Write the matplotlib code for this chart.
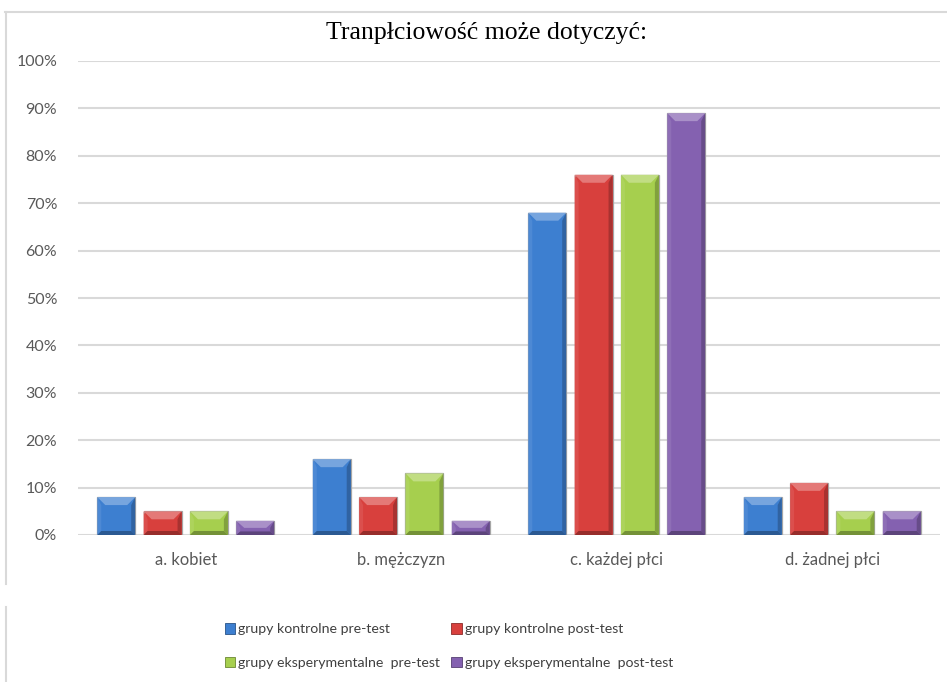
import matplotlib
matplotlib.use("Agg")
import matplotlib.pyplot as plt
from matplotlib.patches import Polygon, Patch
from matplotlib.lines import Line2D
import matplotlib.colors as mcolors
import numpy as np

title = "Tranpłciowość może dotyczyć:"
categories = ["a. kobiet", "b. mężczyzn", "c. każdej płci", "d. żadnej płci"]
series_names = [
    "grupy kontrolne pre-test",
    "grupy kontrolne post-test",
    "grupy eksperymentalne  pre-test",
    "grupy eksperymentalne  post-test",
]
kontrolne_pre = [8, 16, 68, 8]
kontrolne_post = [5, 8, 76, 11]
eksperymentalne_pre = [5, 13, 76, 5]
eksperymentalne_post = [3, 3, 89, 5]
yticks = [0, 10, 20, 30, 40, 50, 60, 70, 80, 90, 100]

series = [kontrolne_pre, kontrolne_post, eksperymentalne_pre, eksperymentalne_post]
colors = ["#3d7fd0", "#d8403d", "#a6cf4e", "#8461b0"]

plt.rcParams["font.family"] = ["Lato", "DejaVu Sans"]

fig = plt.figure(figsize=(9.47, 6.82), dpi=100)
ax = fig.add_axes([78 / 947, 1 - 535 / 682, 862 / 947, 474 / 682])

x = np.arange(len(categories))
step = 0.215
width = 0.176
offsets = (np.arange(4) - 1.5) * step


def shade(c, f):
    r, g, b = mcolors.to_rgb(c)
    if f >= 0:
        return (r + (1 - r) * f, g + (1 - g) * f, b + (1 - b) * f)
    return (r * (1 + f), g * (1 + f), b * (1 + f))


# bevel sizes expressed in data units
px_y = 100 / 474
px_x = 4 / 862
bev_y = 8 * px_y
bev_x = 8 * px_x

for i, (vals, col) in enumerate(zip(series, colors)):
    bars = ax.bar(x + offsets[i], vals, width, color=col,
                  edgecolor="#a6a6a6", linewidth=0.9, zorder=3)
    for b in bars:
        x0, w, h = b.get_x(), b.get_width(), b.get_height()
        x1 = x0 + w
        by = min(bev_y, h / 2)
        sx = bev_x * 0.5
        # top bevel
        ax.add_patch(Polygon([(x0, h), (x1, h), (x1 - bev_x, h - by), (x0 + bev_x, h - by)],
                             closed=True, facecolor=shade(col, 0.3), edgecolor="none", zorder=4))
        # right side
        ax.add_patch(Polygon([(x1, h), (x1, 0), (x1 - sx, by * 0.5), (x1 - sx, h - by)],
                             closed=True, facecolor=shade(col, -0.22), edgecolor="none", zorder=4))
        # left side
        ax.add_patch(Polygon([(x0, h), (x0, 0), (x0 + sx, by * 0.5), (x0 + sx, h - by)],
                             closed=True, facecolor=shade(col, 0.08), edgecolor="none", zorder=4))
        # bottom
        ax.add_patch(Polygon([(x0, 0), (x1, 0), (x1 - sx, by * 0.5), (x0 + sx, by * 0.5)],
                             closed=True, facecolor=shade(col, -0.3), edgecolor="none", zorder=4))

ax.set_xlim(-0.5, len(categories) - 0.5)
ax.set_ylim(0, 100)
ax.set_yticks(yticks)
ax.set_yticklabels([f"{t}%" for t in yticks], fontsize=11.5, color="#595959")
ax.set_xticks(x)
ax.set_xticklabels(categories, fontsize=12, color="#595959")
ax.tick_params(length=0, pad=12)
ax.tick_params(axis="y", pad=15)
ax.grid(axis="y", color="#d9d9d9", linewidth=1.5, zorder=0)
ax.set_axisbelow(True)
for s in ax.spines.values():
    s.set_visible(False)

fig.text(487 / 947, 1 - 33 / 682, title, ha="center", va="center",
         fontsize=18.5, family=["Liberation Serif", "DejaVu Serif"], color="#000000")

# outer frame lines
fig.add_artist(Line2D([5 / 947, 1], [1 - 12 / 682] * 2, color="#d9d9d9", linewidth=1.5))
fig.add_artist(Line2D([6 / 947] * 2, [1 - 12 / 682, 1 - 584 / 682], color="#d9d9d9", linewidth=1.5))
fig.add_artist(Line2D([6 / 947] * 2, [1 - 607 / 682, 0], color="#d9d9d9", linewidth=1.5))

handles = [Patch(facecolor=c, edgecolor=shade(c, -0.35), linewidth=0.6) for c in colors]
order = [0, 2, 1, 3]
fig.legend([handles[i] for i in order], [series_names[i] for i in order],
           ncol=2, loc="center", bbox_to_anchor=(449 / 947, 1 - 646 / 682),
           frameon=False, fontsize=10.2, labelcolor="#404040",
           handlelength=0.75, handleheight=0.75, handletextpad=0.2,
           columnspacing=0.8, labelspacing=1.5)

fig.savefig("out.png", dpi=100, facecolor="white")
